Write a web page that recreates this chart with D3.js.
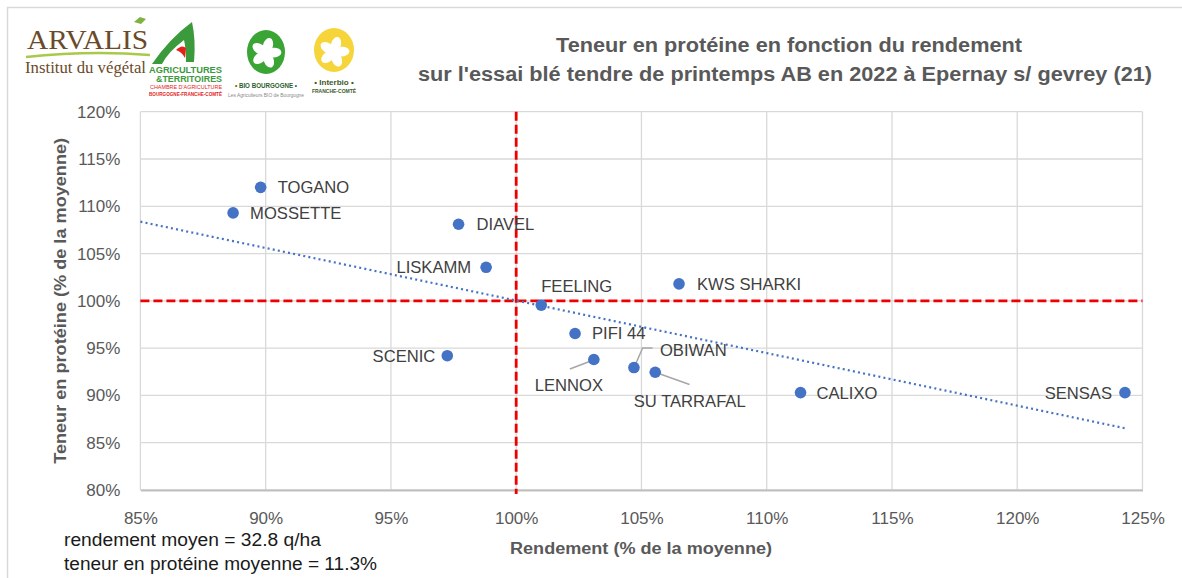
<!DOCTYPE html>
<html>
<head>
<meta charset="utf-8">
<script src="https://cdn.jsdelivr.net/npm/d3@7"></script>
<style>
  body { margin: 0; background: #fff; }
  svg { font-family: "Liberation Sans", Arial, sans-serif; }
</style>
</head>
<body>
<svg id="drawing"></svg>
<script>
// varieties, yield (% of mean) and protein (% of mean)
const varieties = ["TOGANO", "MOSSETTE", "DIAVEL", "LISKAMM", "FEELING", "KWS SHARKI", "PIFI 44",
                   "SCENIC", "LENNOX", "OBIWAN", "SU TARRAFAL", "CALIXO", "SENSAS"];
const rendement = [89.8, 88.7, 97.7, 98.8, 101.0, 106.5, 102.35, 97.25, 103.1, 104.7, 105.55, 111.35, 124.3];
const proteine  = [112.0, 109.3, 108.1, 103.55, 99.55, 101.8, 96.55, 94.2, 93.8, 92.95, 92.45, 90.3, 90.3];

// linear trend (Excel), two ends
const trendX = [85, 124.3];
const trendY = [108.37, 86.53];

const xTicks = [85, 90, 95, 100, 105, 110, 115, 120, 125];
const yTicks = [80, 85, 90, 95, 100, 105, 110, 115, 120];

const titleLines = ["Teneur en protéine en fonction du rendement",
                    "sur l'essai blé tendre de printemps AB en 2022 à Epernay s/ gevrey (21)"];
const notes = ["rendement moyen = 32.8 q/ha", "teneur en protéine moyenne = 11.3%"];

const data = varieties.map((v, i) => ({name: v, x: rendement[i], y: proteine[i]}));

const config = {
    width: 1182,
    height: 578,
    margin: {top: 111.7, right: 39.5, bottom: 88, left: 140.4}
};

const svg = d3.select('#drawing')
    .attr('width', config.width)
    .attr('height', config.height);

svg.append('rect').attr('width', config.width).attr('height', config.height).attr('fill', '#fff');

// outer frame (top and left visible)
svg.append('path')
    .attr('d', `M7.5,${config.height} V7.5 H${config.width}`)
    .attr('fill', 'none').attr('stroke', '#d9d9d9').attr('stroke-width', 1.5);

const inner_width = config.width - config.margin.left - config.margin.right;
const inner_height = config.height - config.margin.top - config.margin.bottom;

const chart = svg.append('g')
    .attr('transform', `translate(${config.margin.left}, ${config.margin.top})`);

const xscale = d3.scaleLinear().domain([85, 125]).range([0, inner_width]);
const yscale = d3.scaleLinear().domain([80, 120]).range([inner_height, 0]);

// grid
chart.append('g').selectAll('line')
    .data(xTicks)
    .join('line')
    .attr('x1', d => xscale(d)).attr('x2', d => xscale(d))
    .attr('y1', 0).attr('y2', inner_height)
    .attr('stroke', '#d9d9d9').attr('stroke-width', 1.3);

chart.append('g').selectAll('line')
    .data(yTicks)
    .join('line')
    .attr('x1', 0).attr('x2', inner_width)
    .attr('y1', d => yscale(d)).attr('y2', d => yscale(d))
    .attr('stroke', '#d9d9d9').attr('stroke-width', 1.3);

// axes
const xaxis = d3.axisBottom(xscale).tickValues(xTicks).tickSize(0).tickPadding(22)
    .tickFormat(d => d + '%');
const xaxis_group = chart.append('g')
    .attr('transform', `translate(0, ${inner_height})`)
    .call(xaxis);
xaxis_group.select('.domain').attr('stroke', '#bfbfbf').attr('stroke-width', 2);

const yaxis = d3.axisLeft(yscale).tickValues(yTicks).tickSize(0).tickPadding(20)
    .tickFormat(d => d + '%');
const yaxis_group = chart.append('g').call(yaxis);
yaxis_group.select('.domain').remove();

chart.selectAll('.tick text')
    .attr('font-family', '"Liberation Sans", Arial, sans-serif')
    .attr('font-size', 17)
    .attr('fill', '#595959');

// mean lines (100 %)
chart.append('line')
    .attr('x1', 0).attr('x2', inner_width)
    .attr('y1', yscale(100)).attr('y2', yscale(100))
    .attr('stroke', '#ee0000').attr('stroke-width', 2.8).attr('stroke-dasharray', '9,4');
chart.append('line')
    .attr('x1', xscale(100)).attr('x2', xscale(100))
    .attr('y1', 0).attr('y2', inner_height + 4)
    .attr('stroke', '#ee0000').attr('stroke-width', 2.8).attr('stroke-dasharray', '9,4');

// trend line
chart.append('line')
    .attr('x1', xscale(trendX[0])).attr('y1', yscale(trendY[0]))
    .attr('x2', xscale(trendX[1])).attr('y2', yscale(trendY[1]))
    .attr('stroke', '#4472c4').attr('stroke-width', 2.2)
    .attr('stroke-dasharray', '2,3.2');

// label placement: dx, dy from point, anchor, optional leader line
const labelPos = {
    "TOGANO":      {dx: 17, dy: 6, anchor: 'start'},
    "MOSSETTE":    {dx: 17, dy: 6, anchor: 'start'},
    "DIAVEL":      {dx: 18, dy: 6, anchor: 'start'},
    "LISKAMM":     {dx: -15, dy: 6, anchor: 'end'},
    "FEELING":     {dx: 0, dy: -13, anchor: 'start'},
    "KWS SHARKI":  {dx: 18, dy: 6, anchor: 'start'},
    "PIFI 44":     {dx: 17, dy: 6, anchor: 'start'},
    "SCENIC":      {dx: -12, dy: 6, anchor: 'end'},
    "LENNOX":      {dx: -25, dy: 32, anchor: 'middle', leader: [[-3, 1.5], [-24, 9.5]]},
    "OBIWAN":      {dx: 26, dy: -12, anchor: 'start', leader: [[1.5, -3], [8.7, -19.6], [18.7, -19.6]]},
    "SU TARRAFAL": {dx: 34.5, dy: 34.5, anchor: 'middle', leader: [[3.5, 1.3], [34.3, 12.3]]},
    "CALIXO":      {dx: 16, dy: 6, anchor: 'start'},
    "SENSAS":      {dx: -13, dy: 6, anchor: 'end'}
};

chart.append('g').selectAll('path')
    .data(data.filter(d => labelPos[d.name].leader))
    .join('path')
    .attr('d', d => d3.line()(labelPos[d.name].leader.map(p => [xscale(d.x) + p[0], yscale(d.y) + p[1]])))
    .attr('fill', 'none').attr('stroke', '#a6a6a6').attr('stroke-width', 1.5);

chart.append('g').selectAll('circle')
    .data(data)
    .join('circle')
    .attr('cx', d => xscale(d.x))
    .attr('cy', d => yscale(d.y))
    .attr('r', 5.8)
    .attr('fill', '#4472c4');

chart.append('g').selectAll('text')
    .data(data)
    .join('text')
    .attr('x', d => xscale(d.x) + labelPos[d.name].dx)
    .attr('y', d => yscale(d.y) + labelPos[d.name].dy)
    .attr('text-anchor', d => labelPos[d.name].anchor)
    .attr('font-size', 16.6)
    .attr('fill', '#404040')
    .text(d => d.name);

// axis titles
svg.append('text')
    .attr('transform', `translate(66, ${config.margin.top + inner_height / 2}) rotate(-90)`)
    .attr('text-anchor', 'middle')
    .attr('font-size', 16.5).attr('font-weight', 'bold').attr('fill', '#595959')
    .attr('textLength', 326).attr('lengthAdjust', 'spacingAndGlyphs')
    .text('Teneur en protéine (% de la moyenne)');

svg.append('text')
    .attr('x', 641).attr('y', 554)
    .attr('text-anchor', 'middle')
    .attr('font-size', 16).attr('font-weight', 'bold').attr('fill', '#595959')
    .attr('textLength', 262).attr('lengthAdjust', 'spacingAndGlyphs')
    .text('Rendement (% de la moyenne)');

// title
const titleLen = [466, 734];
svg.append('g').selectAll('text')
    .data(titleLines)
    .join('text')
    .attr('x', (d, i) => i === 0 ? 789 : 785)
    .attr('y', (d, i) => 52 + i * 29)
    .attr('text-anchor', 'middle')
    .attr('font-size', 20).attr('font-weight', 'bold').attr('fill', '#595959')
    .attr('textLength', (d, i) => titleLen[i]).attr('lengthAdjust', 'spacingAndGlyphs')
    .text(d => d);

// notes under the chart
const notesLen = [257, 313];
svg.append('g').selectAll('text')
    .data(notes)
    .join('text')
    .attr('x', 64)
    .attr('y', (d, i) => 546 + i * 24)
    .attr('font-size', 18).attr('fill', '#1a1a1a')
    .attr('textLength', (d, i) => notesLen[i]).attr('lengthAdjust', 'spacingAndGlyphs')
    .text(d => d);

// ---- logos (rough) ----
const logo = svg.append('g');
const serif = '"Liberation Serif", "DejaVu Serif", serif';
// ARVALIS
logo.append('text')
    .attr('x', 27).attr('y', 49)
    .style('font-family', serif)
    .attr('font-size', 28).attr('fill', '#6b4a2a')
    .attr('textLength', 121).attr('lengthAdjust', 'spacingAndGlyphs')
    .text('ARVALIS');
logo.append('path')
    .attr('d', 'M134,22 l6,-5 l6,2 l-5,5 z')
    .attr('fill', '#7fb241');
logo.append('path')
    .attr('d', 'M26,57 Q90,50 150,55')
    .attr('fill', 'none').attr('stroke', '#a8c94a').attr('stroke-width', 2.5);
logo.append('text')
    .attr('x', 25).attr('y', 73)
    .style('font-family', serif)
    .attr('font-size', 17).attr('fill', '#6b4a2a')
    .attr('textLength', 121).attr('lengthAdjust', 'spacingAndGlyphs')
    .text('Institut du végétal');

// Agricultures & Territoires
logo.append('path')
    .attr('d', 'M152,64 Q170,38 192,22 Q196,40 194,62 L186,62 Q186,48 184,40 Q168,52 162,64 Z')
    .attr('fill', '#3a9a3c');
logo.append('path')
    .attr('d', 'M176,50 q6,-6 10,-2 l-1,10 q-3,-6 -9,-8 z')
    .attr('fill', '#e2231a');
logo.append('text').attr('x', 149).attr('y', 73)
    .attr('font-size', 9.5).attr('font-weight', 'bold').attr('fill', '#3a9a3c')
    .attr('textLength', 73).attr('lengthAdjust', 'spacingAndGlyphs')
    .text('AGRICULTURES');
logo.append('text').attr('x', 156).attr('y', 82)
    .attr('font-size', 9.5).attr('font-weight', 'bold').attr('fill', '#3a9a3c')
    .attr('textLength', 66).attr('lengthAdjust', 'spacingAndGlyphs')
    .text('&TERRITOIRES');
logo.append('text').attr('x', 150).attr('y', 89)
    .attr('font-size', 6).attr('fill', '#e2231a')
    .attr('textLength', 72).attr('lengthAdjust', 'spacingAndGlyphs')
    .text("CHAMBRE D'AGRICULTURE");
logo.append('text').attr('x', 149).attr('y', 95.5)
    .attr('font-size', 5.5).attr('font-weight', 'bold').attr('fill', '#e2231a')
    .attr('textLength', 73).attr('lengthAdjust', 'spacingAndGlyphs')
    .text('BOURGOGNE-FRANCHE-COMTÉ');

// flower helper
function flower(g, cx, cy, s) {
    for (let k = 0; k < 5; k++) {
        g.append('ellipse')
            .attr('cx', cx).attr('cy', cy - 7 * s)
            .attr('rx', 4.5 * s).attr('ry', 7 * s)
            .attr('transform', `rotate(${k * 72 + 15}, ${cx}, ${cy})`)
            .attr('fill', '#fff');
    }
}

// Bio Bourgogne
logo.append('ellipse').attr('cx', 266).attr('cy', 52).attr('rx', 19).attr('ry', 22).attr('fill', '#3aa535');
flower(logo, 266, 53, 1.1);
logo.append('text').attr('x', 266).attr('y', 88).attr('text-anchor', 'middle')
    .attr('font-size', 7).attr('font-weight', 'bold').attr('fill', '#2e5e2e')
    .attr('textLength', 62).attr('lengthAdjust', 'spacingAndGlyphs')
    .text('• BIO BOURGOGNE •');
logo.append('text').attr('x', 266).attr('y', 97).attr('text-anchor', 'middle')
    .attr('font-size', 4.5).attr('fill', '#888')
    .attr('textLength', 76).attr('lengthAdjust', 'spacingAndGlyphs')
    .text('Les Agriculteurs BIO de Bourgogne');

// Interbio
logo.append('ellipse').attr('cx', 334).attr('cy', 50).attr('rx', 20).attr('ry', 22).attr('fill', '#f6d53a');
flower(logo, 334, 52, 1.1);
logo.append('text').attr('x', 334).attr('y', 85).attr('text-anchor', 'middle')
    .attr('font-size', 8).attr('font-weight', 'bold').attr('fill', '#3d5a2a')
    .text('• Interbio •');
logo.append('text').attr('x', 334).attr('y', 93).attr('text-anchor', 'middle')
    .attr('font-size', 5).attr('font-weight', 'bold').attr('fill', '#3d5a2a')
    .text('FRANCHE-COMTÉ');
</script>
</body>
</html>
